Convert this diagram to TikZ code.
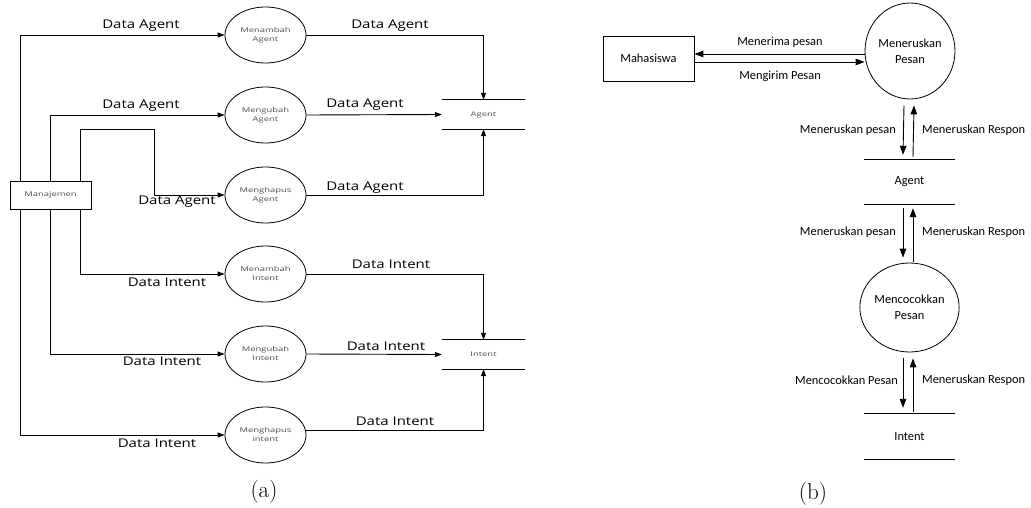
\documentclass[tikz,border=0pt]{standalone}
\usepackage{fontspec}
\usetikzlibrary{arrows.meta,shapes.geometric}
\newfontfamily\lblfont[FakeStretch=1.25]{Open Sans}
\newfontfamily\smallfont[FakeStretch=1.45]{Open Sans}
\newfontfamily\calfont{Carlito}
\begin{document}
\begin{tikzpicture}[x=1pt,y=-1pt,
  line/.style={draw, line width=0.9pt},
  flow/.style={line, -{Triangle[length=7pt,width=5pt]}},
  flowb/.style={line, -{Triangle[length=9pt,width=6.5pt]}},
  proc/.style={ellipse, draw, line width=0.8pt, minimum width=81pt, minimum height=56pt,
    inner sep=0pt, align=center, text=black!70, font=\smallfont\fontsize{6.5}{9}\selectfont},
  ent/.style={rectangle, draw, line width=0.8pt, fill=white, minimum width=81pt, minimum height=28pt,
    inner sep=0pt, text=black!70, font=\smallfont\fontsize{6.5}{9}\selectfont},
  store/.style={rectangle, minimum width=83pt, minimum height=29pt, inner sep=0pt,
    text=black!70, font=\smallfont\fontsize{6.5}{9}\selectfont},
  lbl/.style={inner sep=0pt, font=\lblfont\fontsize{12}{14}\selectfont},
  procb/.style={ellipse, draw, line width=0.8pt, inner sep=0pt, align=center,
    font=\calfont\fontsize{12.4}{16}\selectfont},
  entb/.style={rectangle, draw, line width=0.8pt, minimum width=91pt, minimum height=45pt,
    inner sep=0pt, font=\calfont\fontsize{12.4}{14}\selectfont},
  storeb/.style={rectangle, minimum width=91pt, inner sep=0pt, font=\calfont\fontsize{12.4}{14}\selectfont},
  lblb/.style={inner sep=0pt, font=\calfont\fontsize{12.4}{14}\selectfont},
  figcap/.style={inner sep=0pt, font=\fontsize{23}{26}\selectfont}]
\useasboundingbox (0,0) rectangle (1031,508);

% ---------- (a) management of agents and intents ----------
\node[ent] (man) at (50.5,195) {Manajemen};

\node[proc] (a1) at (265.5,35)  {Menambah\\Agent};
\node[proc] (a2) at (265.5,115) {Mengubah\\Agent};
\node[proc] (a3) at (265.5,195) {Menghapus\\Agent};
\node[proc] (i1) at (265.5,274) {Menambah\\Intent};
\node[proc] (i2) at (265.5,354) {Mengubah\\Intent};
\node[proc] (i3) at (265.5,435) {Menghapus\\intent};

\node[store] (ag) at (483.5,114.5) {Agent};
\node[store] (in) at (483.5,354.5) {Intent};
\draw[line] (ag.north west) -- (ag.north east) (ag.south west) -- (ag.south east);
\draw[line] (in.north west) -- (in.north east) (in.south west) -- (in.south east);

\coordinate (bend) at (154,129);
\draw[flow] ([xshift=-30pt]man.north) |- (a1.west);
\draw[flow] (man.north) |- (a2.west);
\draw[flow] ([xshift=30pt]man.north) |- (bend) |- (a3.west);
\draw[flow] ([xshift=30pt]man.south) |- (i1.west);
\draw[flow] (man.south) |- (i2.west);
\draw[flow] ([xshift=-30pt]man.south) |- (i3.west);

\draw[flow] (a1.east) -| (ag.north);
\draw[flow] (a2.east) -- (ag.west);
\draw[flow] (a3.east) -| (ag.south);
\draw[flow] (i1.east) -| (in.north);
\draw[flow] (i2.east) -- (in.west);
\draw[flow] ([yshift=5pt]i3.east) -| (in.south);

\node[lbl] (la1) at (141,26)  {Data Agent};
\node[lbl] (la2) at (141,106) {Data Agent};
\node[lbl] (la3) at (177,202) {Data Agent};
\node[lbl] (li1) at (167,282) {Data Intent};
\node[lbl] (li2) at (162,361) {Data Intent};
\node[lbl] (li3) at (157,443) {Data Intent};
\node[lbl] (ra1) at (390,26)  {Data Agent};
\node[lbl] (ra2) at (365,105) {Data Agent};
\node[lbl] (ra3) at (365,188) {Data Agent};
\node[lbl] (ri1) at (391,264) {Data Intent};
\node[lbl] (ri2) at (386,346) {Data Intent};
\node[lbl] (ri3) at (395,421) {Data Intent};

\node[figcap] (capa) at (264,492) {(a)};

% ---------- (b) message flow ----------
\node[entb] (mhs) at (648.5,58.5) {Mahasiswa};
\node[procb, minimum width=90pt, minimum height=96pt] (mp) at (910,51) {Meneruskan\\Pesan};
\node[storeb, minimum height=44pt] (ag2) at (909.5,182) {Agent};
\node[procb, minimum width=91pt, minimum height=89pt] (mc) at (909.5,307.5) {Mencocokkan\\Pesan};
\node[storeb, minimum height=45pt] (in2) at (909.5,436.5) {Intent};
\draw[line] (ag2.north west) -- (ag2.north east) (ag2.south west) -- (ag2.south east);
\draw[line] (in2.north west) -- (in2.north east) (in2.south west) -- (in2.south east);

\draw[flowb] ([yshift=-3pt]mp.west) -- ([yshift=4.5pt]mhs.east);
\draw[flowb] ([yshift=-3.5pt]mhs.east) -- ([yshift=-3.5pt]mhs.east -| mp.west);

\draw[flowb] ([xshift=-6pt,yshift=-6pt]mp.south) -- ([xshift=-6.5pt,yshift=5pt]ag2.north);
\draw[flowb] ([xshift=3.5pt,yshift=3pt]ag2.north) -- ([xshift=4pt,yshift=-6pt]mp.south);
\draw[flowb] ([xshift=-6.5pt,yshift=-4pt]ag2.south) -- ([xshift=-6.5pt,yshift=5pt]mc.north);
\draw[flowb] ([xshift=3.5pt,yshift=1pt]mc.north) -- ([xshift=3.5pt,yshift=-4pt]ag2.south);
\draw[flowb] ([xshift=-6.5pt,yshift=-6pt]mc.south) -- ([xshift=-6.5pt,yshift=6pt]in2.north);
\draw[flowb] ([xshift=3.5pt,yshift=2pt]in2.north) -- ([xshift=3.5pt,yshift=-6pt]mc.south);

\node[lblb] (l1) at (780,42) {Menerima pesan};
\node[lblb] (l2) at (780,76) {Mengirim Pesan};
\node[lblb, anchor=east] (l3) at (896,130) {Meneruskan pesan};
\node[lblb, anchor=west] (l4) at (922,130) {Meneruskan Respon};
\node[lblb, anchor=east] (l5) at (896,232) {Meneruskan pesan};
\node[lblb, anchor=west] (l6) at (922,232) {Meneruskan Respon};
\node[lblb, anchor=east] (l7) at (898,380) {Mencocokkan Pesan};
\node[lblb, anchor=west] (l8) at (922,380) {Meneruskan Respon};

\node[figcap] (capb) at (813,494) {(b)};
\end{tikzpicture}
\end{document}
